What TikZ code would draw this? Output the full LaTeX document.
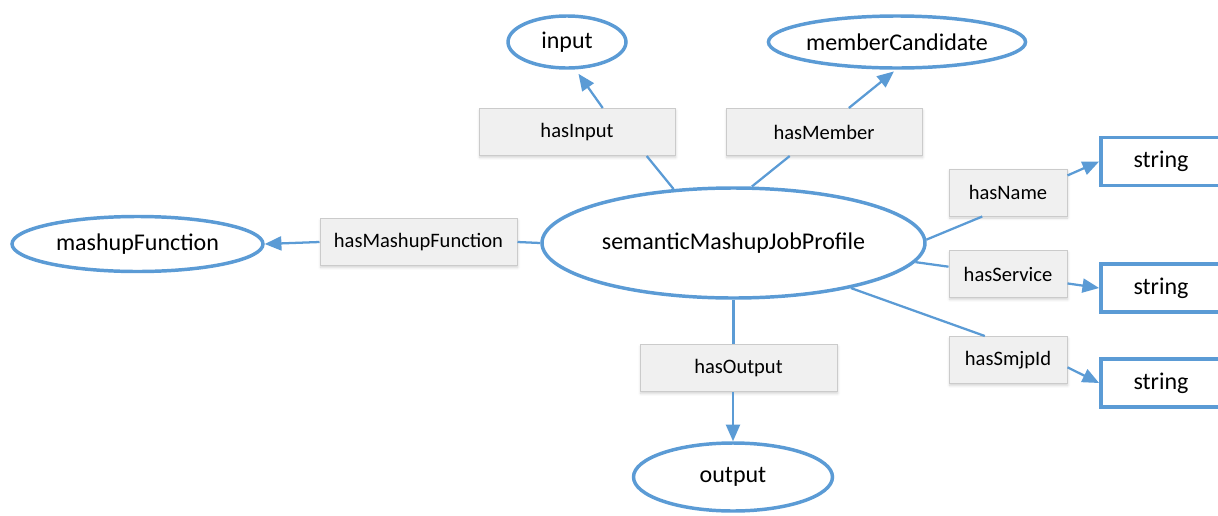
\documentclass[tikz,border=0pt]{standalone}
\usepackage{fontspec}
\setmainfont{Carlito}
\usepackage{tikz}
\usetikzlibrary{arrows.meta,shapes.geometric}
\usetikzlibrary{shadows.blur}

\definecolor{linkblue}{HTML}{5B9BD5}
\definecolor{boxgray}{HTML}{F0F0F0}
\definecolor{edgegray}{HTML}{CBCBCB}

\tikzset{
  classnode/.style = {ellipse, draw = linkblue, line width = 2.6pt,
    fill = white, inner sep = 0pt, font = \fontsize{18}{20}\selectfont},
  propbox/.style = {rectangle, draw = edgegray, fill = boxgray,
    line width = 0.75pt, minimum height = 35.25pt, inner sep = 0pt,
    font = \fontsize{15.4}{18}\selectfont,
    blur shadow = {shadow xshift = 0.5pt, shadow yshift = -1.5pt,
      shadow blur radius = 2pt, shadow opacity = 18}},
  typebox/.style = {rectangle, draw = linkblue, line width = 2.8pt,
    fill = white, minimum width = 90pt, minimum height = 36pt,
    inner sep = 0pt, font = \fontsize{18}{20}\selectfont},
  link/.style = {draw = linkblue, line width = 1.7pt},
  linkarrow/.style = {link, -{Triangle[length = 12.5pt, width = 10.5pt]}}
}

\begin{document}
\begin{tikzpicture}[x = 0.75pt, y = -0.75pt]
  \useasboundingbox (0,0) rectangle (1218,515);

  % classes
  \node[classnode, minimum width = 287.25pt, minimum height = 82.5pt]
    (profile) at (733.5,243) {semanticMashupJobProfile};
  \node[classnode, minimum width = 88.5pt, minimum height = 39pt]
    (input) at (567,42) {input};
  \node[classnode, minimum width = 189pt, minimum height = 39pt]
    (member) at (897,42) {memberCandidate};
  \node[classnode, minimum width = 188.25pt, minimum height = 41.25pt]
    (mashup) at (137.5,244) {mashupFunction};
  \node[classnode, minimum width = 149.25pt, minimum height = 51pt]
    (output) at (733,477) {output};

  % properties
  \node[propbox, minimum width = 147pt] (hasinput) at (577,132) {hasInput};
  \node[propbox, minimum width = 147pt] (hasmember) at (824,132) {hasMember};
  \node[propbox, minimum width = 147.75pt] (hasmashup) at (418.5,242) {hasMashupFunction};
  \node[propbox, minimum width = 147.75pt] (hasoutput) at (738.5,368) {hasOutput};
  \node[propbox, minimum width = 88.5pt] (hasname) at (1008,192.5) {hasName};
  \node[propbox, minimum width = 88.5pt] (hasservice) at (1008,274) {hasService};
  \node[propbox, minimum width = 88.5pt] (hassmjpid) at (1008,360) {hasSmjpId};

  % datatypes
  \node[typebox] (namestr) at (1161,161.5) {string};
  \node[typebox] (servicestr) at (1161,288) {string};
  \node[typebox] (smjpstr) at (1161,383) {string};

  % connectors
  \draw[link] (profile.138) -- (hasinput.-19);
  \draw[linkarrow, shorten >= 4pt] (hasinput.43) -- (input.-73);
  \draw[link] (profile.72) -- (hasmember.-145);
  \draw[linkarrow, shorten >= 2pt] (hasmember.44) -- (member.-92);
  \draw[link] (profile.west) -- (hasmashup.east);
  \draw[linkarrow] (hasmashup.west) -- (mashup.east);
  \draw[link] (profile.south) -- (profile.south |- hasoutput.north);
  \draw[linkarrow] (hasoutput.south -| output.north) -- (output.north);
  \draw[link] (profile.1) -- (hasname.-137);
  \draw[linkarrow] (hasname.16) -- (namestr.west);
  \draw[link] (profile.-6.5) -- (hasservice.173.7);
  \draw[linkarrow] (hasservice.-9) -- (servicestr.west);
  \draw[link] (profile.-21) -- (hassmjpid.134);
  \draw[linkarrow] (hassmjpid.-7) -- (smjpstr.west);
\end{tikzpicture}
\end{document}
